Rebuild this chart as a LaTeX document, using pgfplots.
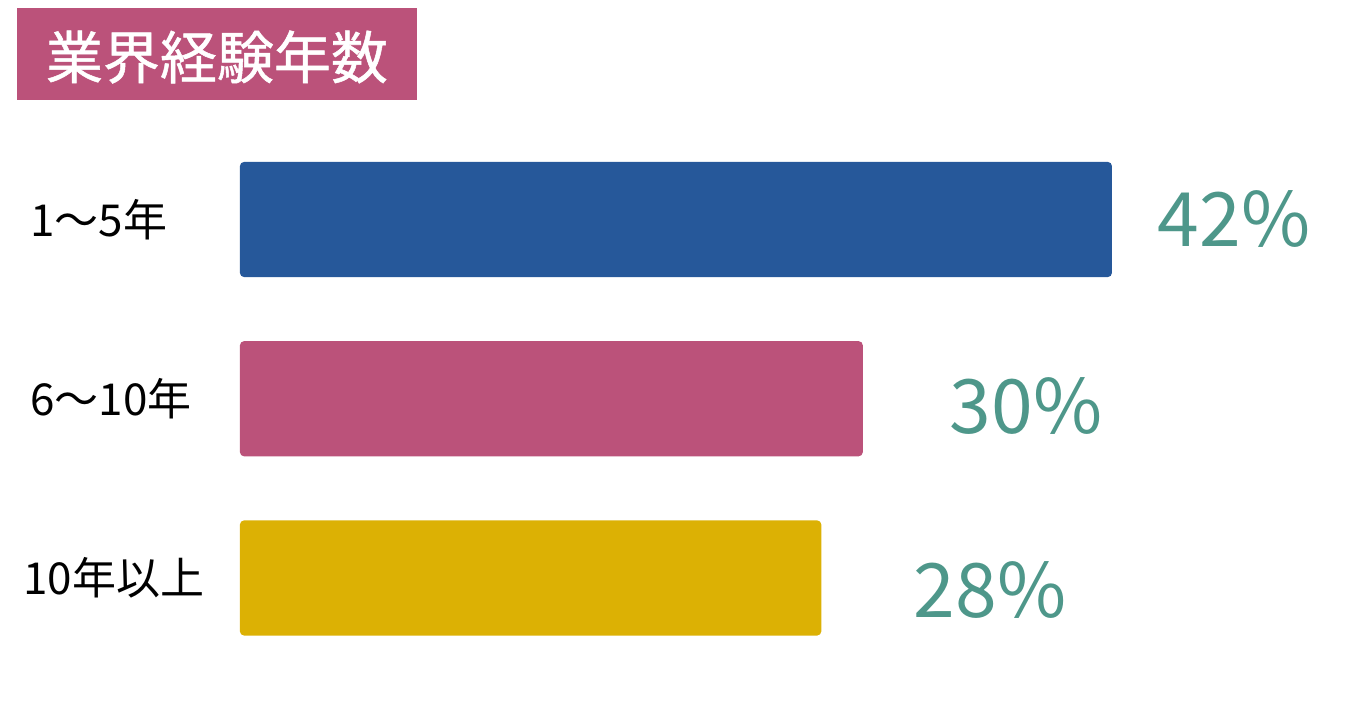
\documentclass[border=0pt]{standalone}
\usepackage{pgfplots}
\pgfplotsset{compat=1.18}
\usepackage{fontspec}
\setmainfont{Noto Sans CJK JP}
\newfontfamily\titlefont{Noto Sans CJK JP}[FakeBold=0.9]
\definecolor{barblue}{HTML}{26589A}
\definecolor{barpink}{HTML}{BB527A}
\definecolor{bargold}{HTML}{DCB104}
\definecolor{pcteal}{HTML}{4E978A}
\begin{document}
\begin{tikzpicture}
  \begin{axis}[
      scale only axis,
      width=680.5pt, height=363pt,
      xmin=-11.56, xmax=54.0,
      ymin=-1.2245, ymax=2.826,
      y dir=reverse,
      hide axis,
      xbar, bar width=0.642, bar shift=0pt,
      clip=false,
    ]
    \addplot[fill=barblue, draw=none, rounded corners=2pt] coordinates {(42,0)};
    \addplot[fill=barpink, draw=none, rounded corners=2pt] coordinates {(30,1)};
    \addplot[fill=bargold, draw=none, rounded corners=2pt] coordinates {(28,2)};

    % category labels
    \node[anchor=west, inner sep=0pt, font=\fontsize{22pt}{25pt}\selectfont] at (axis cs:-10.12,0) {1〜5年};
    \node[anchor=west, inner sep=0pt, font=\fontsize{22pt}{25pt}\selectfont] at (axis cs:-10.12,1) {6〜10年};
    \node[anchor=west, inner sep=0pt, font=\fontsize{22pt}{25pt}\selectfont] at (axis cs:-10.45,2) {10年以上};

    % percent labels
    \node[inner sep=0pt, text=pcteal, font=\fontsize{37.5pt}{40pt}\selectfont] at (axis cs:47.88,0.0) {42\%};
    \node[inner sep=0pt, text=pcteal, font=\fontsize{37.5pt}{40pt}\selectfont] at (axis cs:37.86,1.04) {30\%};
    \node[inner sep=0pt, text=pcteal, font=\fontsize{37.5pt}{40pt}\selectfont] at (axis cs:36.13,2.065) {28\%};

    % title box
    \fill[barpink] (axis description cs:0.01249,0.98898) rectangle (axis description cs:0.30639,0.86226);
    \node[text=white, inner sep=0pt, font=\titlefont\fontsize{28.5pt}{30pt}\selectfont]
      at (axis description cs:0.1594,0.9215) {業界経験年数};
  \end{axis}
  \pgfresetboundingbox
  \path (current axis.south west) rectangle (current axis.north east);
\end{tikzpicture}
\end{document}
